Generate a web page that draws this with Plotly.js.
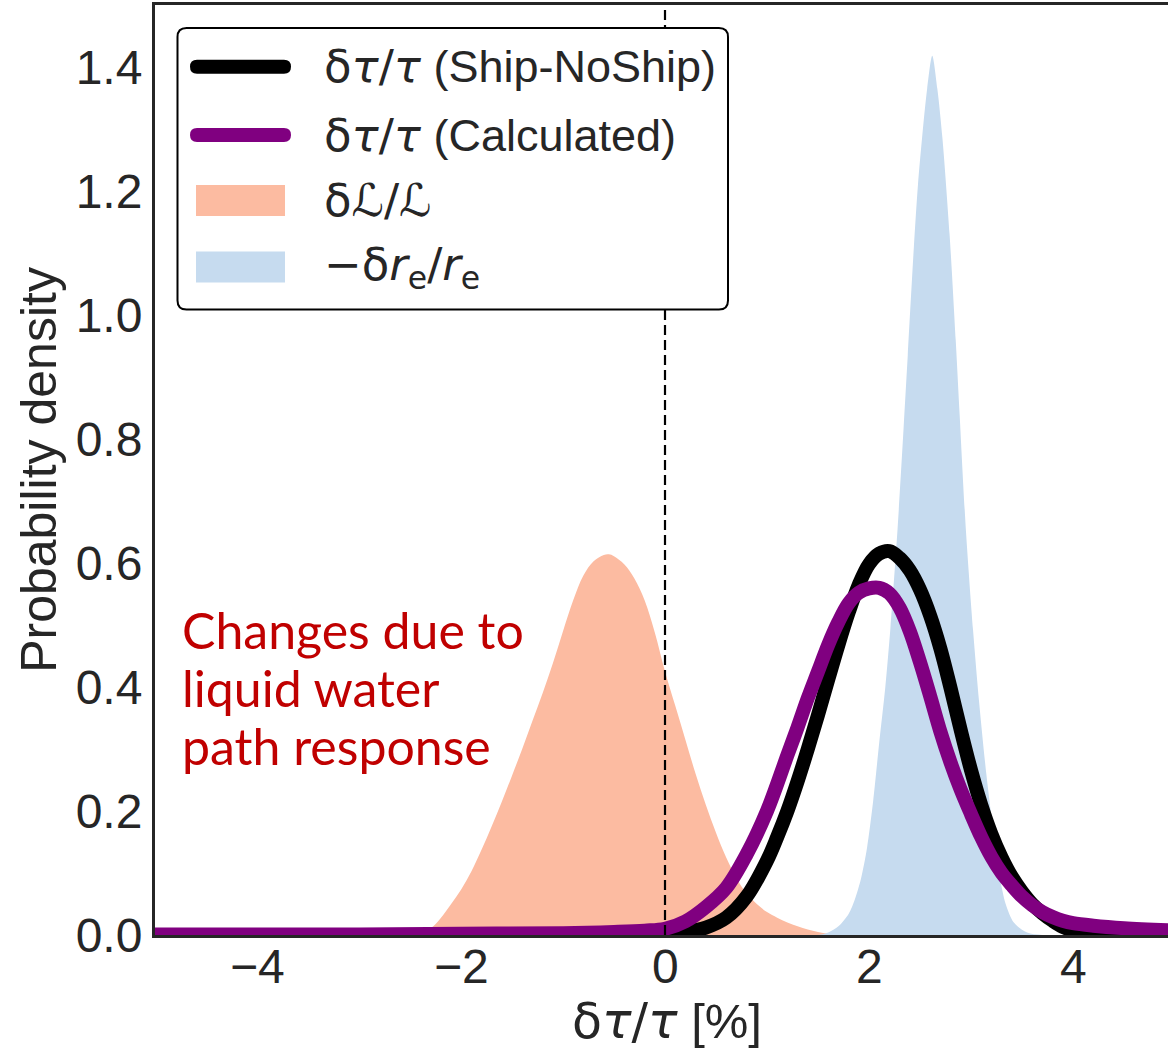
<!DOCTYPE html>
<html>
<head>
<meta charset="utf-8">
<script src="https://cdn.plot.ly/plotly-3.0.1.min.js"></script>
<style>
  html, body { margin: 0; padding: 0; background: #fff; }
  #chart { width: 1168px; height: 1051px; }
</style>
</head>
<body>
<div id="chart"></div>
<script>
// Kernel density estimates of the relative changes (in %)
// δL/L : liquid water path response
const lwpX = [-5, -2.6, -2.4, -2.3, -2.2, -2.1, -2.0, -1.9, -1.8, -1.7, -1.6, -1.5, -1.4, -1.3, -1.2, -1.1, -1.0, -0.9, -0.8, -0.7, -0.6, -0.55, -0.5, -0.4, -0.3, -0.2, -0.1, 0.0, 0.1, 0.2, 0.3, 0.4, 0.5, 0.6, 0.7, 0.8, 0.9, 1.0, 1.1, 1.2, 1.3, 1.4, 1.5, 1.6, 1.7, 5];
const lwpY = [0, 0, 0.003, 0.01, 0.027, 0.049, 0.073, 0.102, 0.137, 0.175, 0.215, 0.257, 0.30, 0.345, 0.39, 0.438, 0.49, 0.54, 0.58, 0.603, 0.613, 0.614, 0.611, 0.598, 0.575, 0.54, 0.488, 0.425, 0.37, 0.315, 0.26, 0.21, 0.165, 0.125, 0.092, 0.067, 0.05, 0.037, 0.028, 0.02, 0.014, 0.009, 0.005, 0.002, 0, 0];

// −δr_e/r_e : effective radius response
const reX = [-5, 1.5, 1.6, 1.7, 1.8, 1.86, 1.92, 1.98, 2.04, 2.1, 2.16, 2.21, 2.28, 2.34, 2.38, 2.44, 2.48, 2.52, 2.57, 2.62, 2.67, 2.72, 2.79, 2.85, 2.89, 2.95, 3.02, 3.08, 3.15, 3.22, 3.28, 3.34, 3.42, 3.55, 3.7, 5];
const reY = [0, 0, 0.004, 0.014, 0.034, 0.057, 0.09, 0.14, 0.215, 0.31, 0.40, 0.495, 0.655, 0.82, 0.935, 1.11, 1.21, 1.285, 1.365, 1.418, 1.365, 1.285, 1.13, 0.96, 0.835, 0.653, 0.492, 0.375, 0.26, 0.165, 0.095, 0.05, 0.02, 0.004, 0, 0];

// δτ/τ from Ship minus NoShip retrievals
const shipX = [-0.05, 0.0, 0.2, 0.4, 0.6, 0.8, 1.0, 1.1, 1.2, 1.3, 1.4, 1.5, 1.6, 1.7, 1.8, 1.9, 2.0, 2.1, 2.2, 2.3, 2.4, 2.5, 2.6, 2.7, 2.8, 2.9, 3.0, 3.1, 3.2, 3.3, 3.4, 3.5, 3.6, 3.7, 3.8, 3.9, 4.0, 4.1, 4.3, 5];
const shipY = [0, 0.002, 0.005, 0.012, 0.028, 0.062, 0.12, 0.158, 0.20, 0.248, 0.30, 0.355, 0.412, 0.468, 0.52, 0.565, 0.598, 0.615, 0.619, 0.608, 0.588, 0.557, 0.515, 0.462, 0.398, 0.33, 0.266, 0.21, 0.163, 0.125, 0.094, 0.07, 0.05, 0.035, 0.023, 0.013, 0.007, 0.003, 0, 0];

// δτ/τ calculated from the δL/L and δr_e/r_e responses
const calcX = [-5, -3, -2, -1, -0.5, -0.2, 0.0, 0.2, 0.4, 0.6, 0.8, 1.0, 1.2, 1.3, 1.4, 1.5, 1.6, 1.7, 1.8, 1.9, 2.0, 2.1, 2.2, 2.3, 2.4, 2.5, 2.6, 2.7, 2.8, 2.9, 3.0, 3.1, 3.2, 3.3, 3.4, 3.5, 3.6, 3.7, 3.8, 3.9, 4.0, 4.2, 4.5, 5];
const calcY = [0.001, 0.001, 0.002, 0.003, 0.005, 0.007, 0.01, 0.022, 0.045, 0.076, 0.13, 0.20, 0.29, 0.335, 0.382, 0.425, 0.468, 0.505, 0.535, 0.552, 0.559, 0.56, 0.551, 0.528, 0.49, 0.44, 0.385, 0.328, 0.278, 0.234, 0.195, 0.158, 0.126, 0.10, 0.08, 0.062, 0.048, 0.037, 0.029, 0.023, 0.019, 0.015, 0.011, 0.007];

const xTicks = [-4, -2, 0, 2, 4];
const xTickText = ['−4', '−2', '0', '2', '4'];
const yTicks = [0, 0.2, 0.4, 0.6, 0.8, 1.0, 1.2, 1.4];
const yTickText = ['0.0', '0.2', '0.4', '0.6', '0.8', '1.0', '1.2', '1.4'];

const MATH = "font-family:DejaVu Sans";
const xTitle = `<span style="${MATH}">δ<i>τ</i>/<i>τ</i></span> [%]`;
const yTitle = 'Probability density';
const legendLabels = [
  `<span style="${MATH}">δ<i>τ</i>/<i>τ</i></span> (Ship-NoShip)`,
  `<span style="${MATH}">δ<i>τ</i>/<i>τ</i></span> (Calculated)`,
  `<span style="${MATH}">δℒ/ℒ</span>`,
  `<span style="${MATH}">−δ<i>r</i><sub>e</sub>/<i>r</i><sub>e</sub></span>`
];
const legendKinds = ['line', 'line', 'patch', 'patch'];
const colors = ['#000000', '#800080', '#fcbba1', '#c6dbef'];

const noteLines = ['Changes due to', 'liquid water', 'path response'];
const noteColor = '#c00000';

// plot area in pixels
const L = 155, R = 1168, T = 5, B = 935;
const W = 1168, H = 1051;
const px = v => (v - L) / (R - L);
const py = v => (B - v) / (B - T);
const pt = (x, y) => px(x).toFixed(5) + ',' + py(y).toFixed(5);

function roundRect(x0, y0, x1, y1, r) {
  return 'M' + pt(x0 + r, y0) + 'L' + pt(x1 - r, y0) +
    'Q' + pt(x1, y0) + ' ' + pt(x1, y0 + r) +
    'L' + pt(x1, y1 - r) + 'Q' + pt(x1, y1) + ' ' + pt(x1 - r, y1) +
    'L' + pt(x0 + r, y1) + 'Q' + pt(x0, y1) + ' ' + pt(x0, y1 - r) +
    'L' + pt(x0, y0 + r) + 'Q' + pt(x0, y0) + ' ' + pt(x0 + r, y0) + 'Z';
}

const LINE_W = 14;
const traces = [
  {x: lwpX, y: lwpY, type: 'scatter', mode: 'lines', fill: 'tozeroy',
   fillcolor: colors[2], line: {width: 0, shape: 'spline', smoothing: 1}},
  {x: reX, y: reY, type: 'scatter', mode: 'lines', fill: 'tozeroy',
   fillcolor: colors[3], line: {width: 0, shape: 'spline', smoothing: 0.8}},
  {x: shipX, y: shipY, type: 'scatter', mode: 'lines',
   line: {color: colors[0], width: LINE_W, shape: 'spline', smoothing: 1}},
  {x: calcX, y: calcY, type: 'scatter', mode: 'lines',
   line: {color: colors[1], width: LINE_W, shape: 'spline', smoothing: 1}}
];

const shapes = [
  {type: 'line', xref: 'x', yref: 'paper', x0: 0, x1: 0, y0: 0, y1: 1,
   line: {color: '#000', width: 2.2, dash: '10px,5px'}, layer: 'above'},
  // legend frame
  {type: 'path', xref: 'paper', yref: 'paper', path: roundRect(177.5, 28, 728, 309.5, 9),
   fillcolor: '#ffffff', line: {color: '#000', width: 2}, layer: 'above'}
];

const TEXT = 'Liberation Sans, Arial, sans-serif';
const INK = '#262626';
const rowY = [66.7, 135, 200.5, 267];
const annotations = [];
legendLabels.forEach((lab, i) => {
  if (legendKinds[i] === 'line') {
    shapes.push({type: 'path', xref: 'paper', yref: 'paper',
      path: roundRect(190, rowY[i] - 7, 291, rowY[i] + 7, 7),
      fillcolor: colors[i], line: {width: 0}, layer: 'above'});
  } else {
    shapes.push({type: 'rect', xref: 'paper', yref: 'paper',
      x0: px(196), x1: px(285), y0: py(rowY[i] - 15.5), y1: py(rowY[i] + 15.5),
      fillcolor: colors[i], line: {width: 0}, layer: 'above'});
  }
  annotations.push({xref: 'paper', yref: 'paper', x: px(322), y: py(rowY[i]),
    xanchor: 'left', yanchor: 'middle', showarrow: false, text: lab,
    font: {family: TEXT, size: 45, color: INK}});
});

const noteY = [630, 688, 746];
noteLines.forEach((t, i) => {
  annotations.push({xref: 'paper', yref: 'paper', x: px(180), y: py(noteY[i]),
    xanchor: 'left', yanchor: 'middle', showarrow: false, text: t,
    font: {family: 'Lato, sans-serif', size: 50, color: noteColor}});
});

// x tick labels and x title, placed below the bottom spine
xTicks.forEach((v, i) => {
  annotations.push({xref: 'x', yref: 'paper', x: v, y: py(966.5),
    xanchor: 'center', yanchor: 'middle', showarrow: false, text: xTickText[i],
    font: {family: TEXT, size: 48, color: INK}});
});
annotations.push({xref: 'paper', yref: 'paper', x: px(667), y: py(1021),
  xanchor: 'center', yanchor: 'middle', showarrow: false, text: xTitle,
  font: {family: TEXT, size: 49, color: INK}});

const layout = {
  width: W, height: H,
  margin: {l: L, r: W - R, t: T, b: H - B, pad: 0},
  paper_bgcolor: '#fff', plot_bgcolor: '#fff',
  showlegend: false,
  xaxis: {
    range: [-5, (R - 665) / 102], tickvals: xTicks, showticklabels: false,
    showgrid: false, zeroline: false, ticks: '',
    showline: true, mirror: true, linecolor: INK, linewidth: 3
  },
  yaxis: {
    range: [0, 1.5], tickvals: yTicks, ticktext: yTickText,
    showgrid: false, zeroline: false, ticks: '', showline: true, mirror: false,
    linecolor: INK, linewidth: 3, tickfont: {family: TEXT, size: 48, color: INK}, ticklabelstandoff: 0,
    title: {text: yTitle, font: {family: TEXT, size: 50, color: INK}, standoff: 4}
  },
  shapes: shapes,
  annotations: annotations
};

Plotly.newPlot('chart', traces, layout, {displayModeBar: false, staticPlot: true});
</script>
</body>
</html>
